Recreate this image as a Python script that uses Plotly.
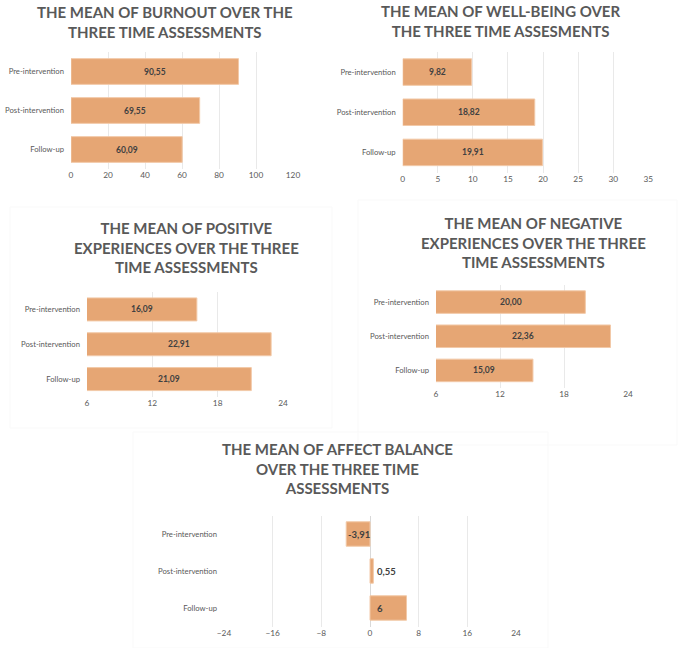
import plotly.graph_objects as go

# ---------------- data ----------------
categories = ["Pre-intervention", "Post-intervention", "Follow-up"]
burnout = [90.55, 69.55, 60.09]
wellbeing = [9.82, 18.82, 19.91]
positive = [16.09, 22.91, 21.09]
negative = [20.00, 22.36, 15.09]
affect = [-3.91, 0.55, 6]

titles = [
    "THE MEAN OF BURNOUT OVER THE<br>THREE TIME ASSESSMENTS",
    "THE MEAN OF WELL-BEING OVER<br>THE THREE TIME ASSESMENTS",
    "THE MEAN OF POSITIVE<br>EXPERIENCES OVER THE THREE<br>TIME ASSESSMENTS",
    "THE MEAN OF NEGATIVE<br>EXPERIENCES OVER THE THREE<br>TIME ASSESSMENTS",
    "THE MEAN OF AFFECT BALANCE<br>OVER THE THREE TIME<br>ASSESSMENTS",
]

W, H = 685, 648
BAR = "#E6A674"
BAR_EDGE = "#F2C9A8"
GRID = "#E9E9E9"
TXT = "#595959"
LBL = "#404040"
FONT = "Lato"


def px(a):
    return a / W


def py(b):
    return 1 - b / H


def fx(a, b):
    return [px(a), px(b)]


def fy(top, bottom):
    return [py(bottom), py(top)]


def comma(v, fmt):
    return format(v, fmt).replace(".", ",")


# panel layout: (values, range, dtick, xdomain px, ydomain px, title centre px, label fmt)
panels = [
    (burnout, [0, 120], 20, (71, 293), (52, 169), (165, 22), ".2f"),
    (wellbeing, [0, 35], 5, (402.7, 648.3), (52, 172.5), (500, 21), ".2f"),
    (positive, [6, 24], 6, (87, 283), (292, 396.5), (187, 248), ".2f"),
    (negative, [6, 24], 6, (436, 628), (285, 387.5), (533, 242), ".2f"),
    (affect, [-24, 24], 8, (224, 516), (515.5, 626.5), (337, 468), "g"),
]

# faint chart-area outlines (pixel rectangles)
boxes = [(10, 207, 332, 428), (358, 200, 677, 445), (133, 432, 548, 648)]

fig = go.Figure()
annotations = []
shapes = []
layout = {}

for (x0, y0, x1, y1) in boxes:
    shapes.append(
        dict(
            type="rect",
            xref="paper",
            yref="paper",
            x0=px(x0),
            x1=px(x1),
            y0=py(y1),
            y1=py(y0),
            fillcolor="rgba(0,0,0,0)",
            line=dict(color="#F9F9F9", width=1),
            layer="below",
        )
    )

for i, (vals, rng, dt, xd, yd, tpos, fmt) in enumerate(panels, start=1):
    sfx = "" if i == 1 else str(i)
    texts = [comma(v, fmt) for v in vals]
    is_affect = i == 5
    fig.add_trace(
        go.Bar(
            y=categories,
            x=vals,
            orientation="h",
            xaxis="x" + sfx,
            yaxis="y" + sfx,
            width=0.66,
            marker=dict(color=BAR, line=dict(color=BAR_EDGE, width=1)),
            showlegend=False,
            hoverinfo="skip",
        )
    )
    layout["xaxis" + sfx] = dict(
        domain=fx(*xd),
        anchor="y" + sfx,
        automargin=False,
        range=rng,
        tick0=rng[0],
        dtick=dt,
        showgrid=True,
        gridcolor=GRID,
        gridwidth=1,
        zeroline=is_affect,
        zerolinecolor="#D9D9D9",
        zerolinewidth=1,
        showline=False,
        ticks="",
        tickfont=dict(family=FONT, size=8.3, color=TXT),
        fixedrange=True,
    )
    layout["yaxis" + sfx] = dict(
        domain=fy(*yd),
        anchor="x" + sfx,
        automargin=False,
        type="category",
        autorange="reversed",
        showgrid=False,
        zeroline=False,
        showline=False,
        ticks="",
        ticklabelstandoff=6,
        tickfont=dict(family=FONT, size=7.7, color=TXT),
        fixedrange=True,
    )
    annotations.append(
        dict(
            text=titles[i - 1],
            x=px(tpos[0]),
            y=py(tpos[1]),
            xref="paper",
            yref="paper",
            xanchor="center",
            yanchor="middle",
            showarrow=False,
            align="center",
            font=dict(family=FONT, size=15, color=TXT, weight="bold"),
        )
    )
    for c, v, t in zip(categories, vals, texts):
        if is_affect:
            ann = dict(
                x=0,
                xanchor="right" if v < 0 else "left",
                xshift=2 if v < 0 else 5,
            )
        else:
            ann = dict(x=(rng[0] + v) / 2, xanchor="center")
        annotations.append(
            dict(
                text=t,
                y=c,
                xref="x" + sfx,
                yref="y" + sfx,
                yanchor="middle",
                showarrow=False,
                font=dict(family=FONT, size=8.5 if not is_affect else 9.5, color=LBL, weight="bold"),
                **ann,
            )
        )

fig.update_layout(
    width=W,
    height=H,
    margin=dict(l=0, r=0, t=0, b=0),
    paper_bgcolor="white",
    plot_bgcolor="rgba(0,0,0,0)",
    annotations=annotations,
    shapes=shapes,
    **layout,
)

# remove the default 8px page margin so the figure sits at the window origin
fig.write_html(
    "out.html",
    config={"displayModeBar": False},
    post_script="document.body.style.margin='0px';document.body.style.overflow='hidden';",
)
